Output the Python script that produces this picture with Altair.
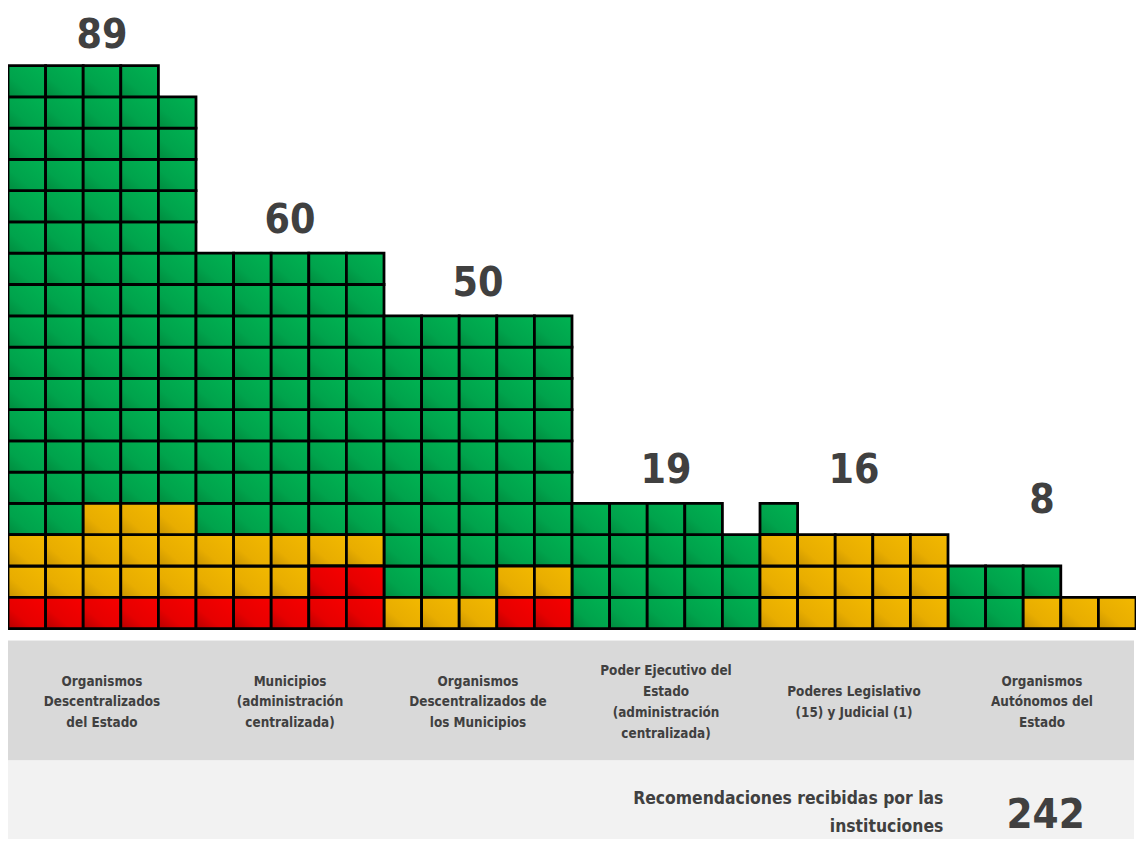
import altair as alt
import pandas as pd

# ---------------- data ----------------
groups = [
    "Organismos Descentralizados del Estado",
    "Municipios (administración centralizada)",
    "Organismos Descentralizados de los Municipios",
    "Poder Ejecutivo del Estado (administración centralizada)",
    "Poderes Legislativo (15) y Judicial (1)",
    "Organismos Autónomos del Estado",
]
group_label_lines = [
    ["Organismos", "Descentralizados", "del Estado"],
    ["Municipios", "(administración", "centralizada)"],
    ["Organismos", "Descentralizados de", "los Municipios"],
    ["Poder Ejecutivo del", "Estado", "(administración", "centralizada)"],
    ["Poderes Legislativo", "(15) y Judicial (1)"],
    ["Organismos", "Autónomos del", "Estado"],
]
totals = [89, 60, 50, 19, 16, 8]

# cell status per row (bottom row first, left to right): R=red, Y=yellow, G=green
cells_g1 = ["RRRRR", "YYYYY", "YYYYY", "GGYYY"] + ["GGGGG"] * 13 + ["GGGG"]
cells_g2 = ["RRRRR", "YYYRR", "YYYYY"] + ["GGGGG"] * 9
cells_g3 = ["YYYRR", "GGGYY"] + ["GGGGG"] * 8
cells_g4 = ["GGGGG"] * 3 + ["GGGG"]
cells_g5 = ["YYYYY"] * 3 + ["G"]
cells_g6 = ["GGYYY", "GGG"]
group_cells = [cells_g1, cells_g2, cells_g3, cells_g4, cells_g5, cells_g6]

footer_lines = ["Recomendaciones recibidas por las", "instituciones"]

# ---------------- layout / style ----------------
W, H = 1136, 834
COLS = 5
ROW_PX = 31.5
GRID_BOTTOM_PX = 622
y_lo = -(H - GRID_BOTTOM_PX) / ROW_PX
y_hi = GRID_BOTTOM_PX / ROW_PX
number_offsets = [0.56, 0.64, 0.64, 0.64, 0.64, 1.68]
LABEL_CENTER_PX = 696.5
LABEL_LH = 21
FONT = "DejaVu Sans Condensed, DejaVu Sans, sans-serif"
TXT = "#404040"


def px_to_units(px):
    return (GRID_BOTTOM_PX - px) / ROW_PX


rows = []
for gi, g_rows in enumerate(group_cells):
    for r, codes in enumerate(g_rows):
        for c, code in enumerate(codes):
            x0 = gi * COLS + c
            rows.append({"group": groups[gi], "x": x0, "x2": x0 + 1,
                         "y": r, "y2": r + 1, "status": code})
cells = pd.DataFrame(rows)

xs = alt.Scale(domain=[0, len(groups) * COLS], range=[0, W], nice=False, zero=False)
ys = alt.Scale(domain=[y_lo, y_hi], nice=False, zero=False)


def grad(dark, base, bright):
    return alt.LinearGradient(
        gradient="linear", x1=0, y1=1, x2=1, y2=0,
        stops=[alt.GradientStop(color=dark, offset=0),
               alt.GradientStop(color=base, offset=0.35),
               alt.GradientStop(color=bright, offset=1)])


fills = {
    "G": grad("#008A3E", "#00A34C", "#00B352"),
    "Y": grad("#C79200", "#E8AD00", "#F3B900"),
    "R": grad("#B50000", "#E60000", "#F70000"),
}

base = alt.Chart(cells)
cell_layers = []
for code, fill in fills.items():
    cell_layers.append(
        base.transform_filter(alt.datum.status == code)
        .mark_rect(fill=fill, stroke="#000000", strokeWidth=2.8, strokeJoin="miter")
        .encode(x=alt.X("x:Q", scale=xs, axis=None),
                x2="x2:Q",
                y=alt.Y("y:Q", scale=ys, axis=None),
                y2="y2:Q")
    )

bands = pd.DataFrame({"name": ["band"]})
gray_band = alt.Chart(bands).mark_rect(fill="#D9D9D9").encode(
    x=alt.value(0), x2=alt.value(1134), y=alt.value(634), y2=alt.value(755))
light_band = alt.Chart(bands).mark_rect(fill="#F2F2F2").encode(
    x=alt.value(0), x2=alt.value(1134), y=alt.value(755), y2=alt.value(H))

nums = pd.DataFrame({
    "group": groups,
    "total": totals,
    "xc": [i * COLS + COLS / 2 for i in range(len(groups))],
    "ytop": [len(g) + o for g, o in zip(group_cells, number_offsets)],
    "lines": group_label_lines,
    "ylab": [px_to_units(LABEL_CENTER_PX - (len(l) - 1) * LABEL_LH / 2)
             for l in group_label_lines],
})

number_text = alt.Chart(nums).mark_text(
    font=FONT, fontWeight="bold", fontSize=41, color=TXT,
    align="center", baseline="alphabetic").encode(
    x=alt.X("xc:Q", scale=xs), y=alt.Y("ytop:Q", scale=ys), text="total:Q")

label_text = alt.Chart(nums).mark_text(
    font=FONT, fontWeight="bold", fontSize=13.5, color=TXT,
    align="center", baseline="middle", lineHeight=LABEL_LH).encode(
    x=alt.X("xc:Q", scale=xs), y=alt.Y("ylab:Q", scale=ys), text="lines")

footer = pd.DataFrame({"lines": [footer_lines], "total": [str(sum(totals))]})
footer_text = alt.Chart(footer).mark_text(
    font=FONT, fontWeight="bold", fontSize=17.5, color=TXT,
    align="right", baseline="middle", lineHeight=28).encode(
    x=alt.value(942), y=alt.value(794), text="lines")
total_text = alt.Chart(footer).mark_text(
    font=FONT, fontWeight="bold", fontSize=42, color=TXT,
    align="center", baseline="alphabetic").encode(
    x=alt.value(1045), y=alt.value(823), text="total:N")

chart = alt.layer(
    gray_band, light_band, *cell_layers, number_text, label_text, footer_text, total_text
).properties(
    width=W, height=H, padding=0, background="#FFFFFF",
    autosize=alt.AutoSizeParams(type="none")
).configure_view(stroke=None)

chart.save("out.html", embed_options={"renderer": "svg", "actions": False})
